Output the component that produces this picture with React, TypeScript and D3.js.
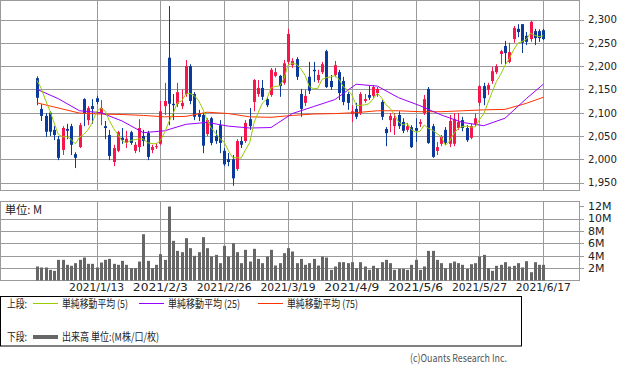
import { useEffect, useRef } from "react";
import * as d3 from "d3";

// daily prices (yen), oldest first
const opens = [
  2174, 2108, 2093, 2100, 2063, 2043, 2020, 2065, 2071, 2011,
  2026, 2129, 2084, 2114, 2131, 2099, 2071, 2052, 1994, 2018,
  2046, 2035, 2058, 2018, 2026, 2050, 2056, 2020, 2026, 2033,
  2114, 2218, 2119, 2119, 2114, 2140, 2200, 2140, 2099, 2095,
  2054, 2088, 2050, 2073, 2018, 2000, 2000, 1979, 2039, 2039,
  2086, 2123, 2140, 2153, 2129, 2138, 2179, 2179, 2164, 2209,
  2202, 2215, 2140, 2121, 2177, 2192, 2170, 2187, 2232, 2168,
  2181, 2187, 2168, 2140, 2097, 2108, 2099, 2125, 2138, 2136,
  2142, 2123, 2065, 2084, 2071, 2095, 2080, 2063, 2069, 2067,
  2076, 2099, 2151, 2071, 2018, 2033, 2063, 2033, 2033, 2067,
  2084, 2067, 2046, 2076, 2121, 2157, 2149, 2168, 2187, 2226,
  2243, 2209, 2258, 2280, 2290, 2265, 2258, 2275, 2275, 2277,
];
const highs = [
  2178, 2118, 2099, 2103, 2071, 2050, 2071, 2076, 2076, 2015,
  2078, 2131, 2114, 2129, 2136, 2127, 2082, 2063, 2031, 2061,
  2067, 2061, 2061, 2037, 2086, 2063, 2061, 2031, 2035, 2125,
  2164, 2329, 2140, 2164, 2149, 2213, 2204, 2144, 2106, 2099,
  2088, 2091, 2063, 2084, 2024, 2013, 2009, 2043, 2048, 2084,
  2110, 2172, 2170, 2170, 2134, 2196, 2196, 2181, 2213, 2280,
  2217, 2219, 2151, 2149, 2209, 2209, 2192, 2209, 2235, 2181,
  2211, 2192, 2177, 2144, 2116, 2121, 2144, 2140, 2157, 2159,
  2155, 2127, 2069, 2099, 2099, 2103, 2088, 2078, 2073, 2088,
  2086, 2138, 2155, 2076, 2037, 2052, 2069, 2095, 2099, 2099,
  2091, 2073, 2076, 2099, 2159, 2164, 2164, 2198, 2204, 2235,
  2254, 2250, 2286, 2290, 2290, 2273, 2297, 2280, 2279, 2280,
];
const lows = [
  2116, 2082, 2048, 2050, 2041, 1998, 2009, 2043, 2009, 1981,
  2024, 2071, 2073, 2076, 2118, 2073, 2043, 1998, 1985, 2015,
  2033, 2024, 2031, 2013, 2015, 2028, 1998, 2013, 2022, 2030,
  2095, 2073, 2084, 2112, 2108, 2134, 2118, 2084, 2082, 2013,
  2050, 2030, 2033, 2013, 1985, 1985, 1943, 1975, 2024, 2035,
  2063, 2103, 2134, 2127, 2112, 2134, 2176, 2134, 2160, 2204,
  2196, 2170, 2091, 2114, 2140, 2166, 2164, 2183, 2153, 2149,
  2176, 2127, 2116, 2106, 2080, 2086, 2095, 2121, 2127, 2132,
  2134, 2084, 2028, 2058, 2052, 2065, 2056, 2058, 2024, 2037,
  2069, 2095, 2033, 2003, 2009, 2028, 2031, 2026, 2028, 2063,
  2060, 2037, 2043, 2071, 2114, 2116, 2138, 2162, 2183, 2204,
  2204, 2206, 2250, 2262, 2228, 2245, 2252, 2245, 2252, 2256,
];
const closes = [
  2132, 2093, 2059, 2059, 2052, 2003, 2067, 2061, 2031, 2003,
  2073, 2099, 2110, 2108, 2123, 2110, 2067, 2007, 2024, 2058,
  2041, 2044, 2035, 2031, 2067, 2039, 2005, 2026, 2028, 2103,
  2125, 2119, 2116, 2144, 2121, 2200, 2125, 2091, 2091, 2029,
  2084, 2035, 2039, 2035, 1989, 1994, 1959, 2039, 2031, 2078,
  2071, 2170, 2153, 2134, 2116, 2192, 2187, 2157, 2206, 2269,
  2211, 2177, 2108, 2136, 2147, 2189, 2181, 2204, 2155, 2155,
  2202, 2142, 2123, 2121, 2103, 2091, 2140, 2129, 2132, 2155,
  2151, 2091, 2056, 2093, 2088, 2071, 2061, 2071, 2026, 2061,
  2080, 2129, 2035, 2005, 2026, 2048, 2035, 2082, 2086, 2080,
  2067, 2041, 2071, 2088, 2157, 2131, 2159, 2189, 2200, 2232,
  2228, 2230, 2282, 2273, 2250, 2252, 2295, 2260, 2260, 2258,
];
// last closes before the visible window (for the 5-day average)
const priorCloses = [2180, 2185, 2170, 2180];

// volume, millions of shares
const volumes = [
  2.26, 2.1, 2.1, 1.72, 1.56, 3.33, 3.33, 2.53, 2.37, 2.8,
  3.33, 3.71, 2.69, 2.69, 2.1, 2.9, 3.33, 3.49, 2.69, 2.53,
  3.17, 2.53, 1.99, 1.99, 3.06, 7.47, 3.17, 1.99, 2.53, 4.25,
  3.33, 11.94, 6.4, 4.78, 4.57, 6.83, 5.22, 3.98, 4.57, 6.99,
  5.22, 3.87, 4.14, 2.8, 5.59, 3.87, 6.02, 4.57, 2.8, 4.95,
  3.06, 5.11, 3.49, 2.8, 3.87, 4.95, 2.42, 2.8, 4.41, 5.22,
  4.68, 2.8, 3.49, 2.53, 2.8, 3.49, 2.42, 3.87, 3.71, 1.72,
  2.26, 2.96, 2.96, 2.8, 2.96, 1.99, 2.96, 2.26, 1.72, 2.37,
  1.99, 2.96, 3.33, 2.8, 1.72, 1.88, 1.88, 1.72, 2.53, 3.33,
  1.72, 2.26, 4.78, 4.78, 3.33, 2.8, 1.99, 2.8, 3.06, 2.8,
  2.53, 1.88, 2.63, 2.8, 3.87, 4.14, 1.99, 1.56, 2.37, 2.53,
  2.96, 2.26, 2.37, 2.8, 2.1, 3.12, 1.34, 2.96, 2.53, 2.53,
];

// 25 / 75 day averages every 5 sessions (+ last)
const sma25 = [
  2150, 2130, 2104, 2100, 2082, 2057, 2061, 2075, 2079, 2071, 2067, 2068, 2098,
  2113, 2128, 2161, 2157, 2132, 2115, 2095, 2079, 2072, 2088, 2130, 2161,
];
const sma75 = [
  2121, 2110, 2099, 2097, 2096, 2094, 2091, 2092, 2101, 2098, 2091, 2090, 2094,
  2097, 2098, 2100, 2104, 2104, 2102, 2102, 2104, 2106, 2107, 2120, 2133,
];

const dateLabels = [
  "2021/1/13", "2021/2/3", "2021/2/26", "2021/3/19",
  "2021/4/9", "2021/5/6", "2021/5/27", "2021/6/17",
];
const priceTicks = [1950, 2000, 2050, 2100, 2150, 2200, 2250, 2300];
const volTicks = [2, 4, 6, 8, 10, 12];

const UP = "#f5164c";
const DOWN = "#0a3a9c";
const GRID = "#9a9a9a";
const C5 = "#99cc00";
const C25 = "#9900ff";
const C75 = "#ff3300";
const JP = "'Noto Sans CJK JP', 'DejaVu Sans', sans-serif";
const NUM = "'DejaVu Sans', sans-serif";

export default function App() {
  const ref = useRef<SVGSVGElement>(null);

  useEffect(() => {
    if (!ref.current) return;
    const svg = d3.select(ref.current);
    svg.selectAll("*").remove();

    const n = closes.length;
    const W = 579;
    const x = d3.scaleLinear().domain([0, n - 1]).range([37, 543.3]);
    const y = d3.scaleLinear().domain([1950, 2300]).range([182.5, 19.5]);
    const yv = d3.scaleLinear().domain([0, 12.75]).range([280.5, 201.5]);
    const gridIdx = dateLabels.map((_, k) => n - 1 - (dateLabels.length - 1 - k) * 15);

    // ---- price panel
    const top = svg.append("g");
    top.append("rect").attr("x", 0.5).attr("y", 0.5).attr("width", W).attr("height", 190)
      .attr("fill", "white").attr("stroke", GRID);
    top.selectAll("line.h").data(priceTicks).join("line")
      .attr("x1", 0).attr("x2", W + 5)
      .attr("y1", (d) => Math.round(y(d)) + 0.5).attr("y2", (d) => Math.round(y(d)) + 0.5)
      .attr("stroke", GRID);
    top.selectAll("line.v").data(gridIdx).join("line")
      .attr("x1", (d) => Math.round(x(d)) + 0.5).attr("x2", (d) => Math.round(x(d)) + 0.5)
      .attr("y1", 0).attr("y2", 190).attr("stroke", GRID);
    top.selectAll("text").data(priceTicks).join("text")
      .attr("x", 588).attr("y", (d) => y(d)).attr("dy", "0.36em")
      .attr("font-family", NUM).attr("font-size", 11).attr("fill", "#222")
      .attr("textLength", 29).attr("lengthAdjust", "spacingAndGlyphs")
      .text((d) => d3.format(",")(d));

    // candles
    const idx = d3.range(n);
    const cg = top.append("g");
    cg.selectAll("line").data(idx).join("line")
      .attr("x1", (i) => Math.round(x(i)) + 0.5).attr("x2", (i) => Math.round(x(i)) + 0.5)
      .attr("y1", (i) => y(highs[i])).attr("y2", (i) => y(lows[i]))
      .attr("stroke", (i) => (closes[i] >= opens[i] ? UP : DOWN));
    cg.selectAll("rect").data(idx).join("rect")
      .attr("x", (i) => Math.round(x(i)) - 1).attr("width", 3)
      .attr("y", (i) => y(Math.max(opens[i], closes[i])))
      .attr("height", (i) => Math.max(1, Math.abs(y(opens[i]) - y(closes[i]))))
      .attr("fill", (i) => (closes[i] >= opens[i] ? UP : DOWN));

    // moving averages
    const all = [...priorCloses, ...closes];
    const ma5 = idx.map((i) => d3.mean(all.slice(i, i + 5)) as number);
    const line = d3.line<[number, number]>().x((d) => x(d[0])).y((d) => y(d[1]));
    const sampled = (arr: number[]) => arr.map((v, k) => [Math.min(k * 5, n - 1), v] as [number, number]);
    top.append("path").datum(sampled(sma75)).attr("d", line).attr("fill", "none").attr("stroke", C75);
    top.append("path").datum(sampled(sma25)).attr("d", line).attr("fill", "none").attr("stroke", C25);
    top.append("path").datum(ma5.map((v, i) => [i, v] as [number, number])).attr("d", line)
      .attr("fill", "none").attr("stroke", C5);

    // ---- volume panel
    const bot = svg.append("g");
    bot.append("rect").attr("x", 0.5).attr("y", 201.5).attr("width", W).attr("height", 79)
      .attr("fill", "white").attr("stroke", GRID);
    bot.selectAll("line.h").data(volTicks).join("line")
      .attr("x1", (d) => (d < 12 ? 0 : W)).attr("x2", W + 5)
      .attr("y1", (d) => Math.round(yv(d)) + 0.5).attr("y2", (d) => Math.round(yv(d)) + 0.5)
      .attr("stroke", GRID);
    bot.selectAll("line.v").data(gridIdx).join("line")
      .attr("x1", (d) => Math.round(x(d)) + 0.5).attr("x2", (d) => Math.round(x(d)) + 0.5)
      .attr("y1", 201.5).attr("y2", 280.5).attr("stroke", GRID);
    bot.selectAll("rect.bar").data(idx).join("rect")
      .attr("x", (i) => Math.round(x(i)) - 1).attr("width", 3)
      .attr("y", (i) => yv(volumes[i])).attr("height", (i) => yv(0) - yv(volumes[i]))
      .attr("fill", "#666");
    bot.selectAll("text.t").data(volTicks).join("text")
      .attr("x", 588).attr("y", (d) => yv(d)).attr("dy", "0.36em")
      .attr("font-family", NUM).attr("font-size", 11).attr("fill", "#222")
      .text((d) => `${d}M`);
    bot.append("text").attr("x", 5).attr("y", 210).attr("dy", "0.36em")
      .attr("font-family", JP).attr("font-size", 11.5).attr("fill", "#222")
      .attr("textLength", 37).attr("lengthAdjust", "spacingAndGlyphs").text("単位: M");

    // date labels
    svg.append("g").selectAll("text").data(gridIdx).join("text")
      .attr("x", (d) => x(d)).attr("y", 287).attr("dy", "0.36em").attr("text-anchor", "middle")
      .attr("font-family", NUM).attr("font-size", 11).attr("fill", "#222")
      .attr("textLength", 55).attr("lengthAdjust", "spacingAndGlyphs")
      .text((_, k) => dateLabels[k]);

    // ---- legend
    const lg = svg.append("g").attr("font-family", JP).attr("font-size", 11).attr("fill", "#222");
    lg.append("rect").attr("x", 0.5).attr("y", 296.5).attr("width", 521).attr("height", 49.5)
      .attr("fill", "white").attr("stroke", "#000");
    const label = (tx: number, ty: number, t: string, len: number) =>
      lg.append("text").attr("x", tx).attr("y", ty).attr("dy", "0.36em")
        .attr("textLength", len).attr("lengthAdjust", "spacingAndGlyphs").text(t);
    label(7, 304, "上段:", 20);
    const items = [
      { c: C5, t: "単純移動平均 (5)", x0: 33, len: 66 },
      { c: C25, t: "単純移動平均 (25)", x0: 139, len: 72 },
      { c: C75, t: "単純移動平均 (75)", x0: 258, len: 71 },
    ];
    items.forEach((it) => {
      lg.append("line").attr("x1", it.x0).attr("x2", it.x0 + 25).attr("y1", 303.5).attr("y2", 303.5)
        .attr("stroke", it.c);
      label(it.x0 + 29, 304, it.t, it.len);
    });
    label(7, 337, "下段:", 20);
    lg.append("line").attr("x1", 33).attr("x2", 58).attr("y1", 337).attr("y2", 337)
      .attr("stroke", "#666").attr("stroke-width", 4);
    label(62, 337, "出来高 単位:(M株/口/枚)", 97);

    svg.append("text").attr("x", 507).attr("y", 358).attr("dy", "0.36em").attr("text-anchor", "end")
      .attr("font-family", JP).attr("font-size", 11).attr("fill", "#555")
      .attr("textLength", 97).attr("lengthAdjust", "spacingAndGlyphs")
      .text("(c)Ouants Research Inc.");
  }, []);

  return (
    <svg ref={ref} width={633} height={371}
      style={{ position: "absolute", left: 0, top: 0, background: "white" }} />
  );
}
